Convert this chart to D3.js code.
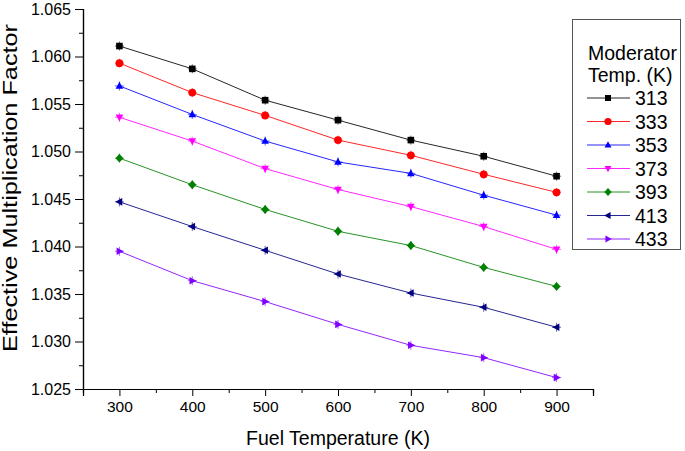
<!DOCTYPE html>
<html>
<head>
<meta charset="utf-8">
<script src="https://cdn.jsdelivr.net/npm/d3@7"></script>
<style>
  html, body { margin: 0; padding: 0; background: #fff; }
  svg { display: block; font-family: "Liberation Sans", Arial, sans-serif; }
</style>
</head>
<body>
<svg id="chart" width="685" height="451"></svg>
<script>
// ---- data ----
const fuelTemps = [300, 400, 500, 600, 700, 800, 900];
const moderatorTemps = ["313", "333", "353", "373", "393", "413", "433"];
const k313 = [1.0611, 1.0587, 1.0554, 1.0533, 1.0512, 1.0495, 1.0474];
const k333 = [1.0593, 1.0562, 1.0538, 1.0512, 1.0496, 1.0476, 1.0457];
const k353 = [1.0569, 1.0539, 1.0511, 1.0489, 1.0477, 1.0454, 1.0433];
const k373 = [1.0536, 1.0511, 1.0482, 1.0460, 1.0442, 1.0421, 1.0397];
const k393 = [1.0493, 1.0465, 1.0439, 1.0416, 1.0401, 1.0378, 1.0358];
const k413 = [1.0447, 1.0421, 1.0396, 1.0371, 1.0351, 1.0336, 1.0315];
const k433 = [1.0395, 1.0364, 1.0342, 1.0318, 1.0296, 1.0283, 1.0262];
const xTicks = [300, 400, 500, 600, 700, 800, 900];
const yTicks = [1.025, 1.030, 1.035, 1.040, 1.045, 1.050, 1.055, 1.060, 1.065];
const xTitle = "Fuel Temperature (K)";
const yTitle = "Effective Multiplication Factor";
const legendTitle = ["Moderator", "Temp. (K)"];

const seriesValues = [k313, k333, k353, k373, k393, k413, k433];
const colors = ["#000000", "#ff0000", "#0000ff", "#ff00ff", "#008000", "#000080", "#8000ff"];
const symbols = ["square", "circle", "triUp", "triDown", "diamond", "triLeft", "triRight"];

// ---- layout ----
const svg = d3.select("#chart");
const x = d3.scaleLinear().domain([250, 950]).range([83, 593]);
const y = d3.scaleLinear().domain([1.025, 1.065]).range([389, 9]);

// axes
const xMinor = d3.range(250, 951, 50).filter(v => v % 100 !== 0);
const yMinor = d3.range(0, 8).map(i => 1.0275 + i * 0.005);

const gx = svg.append("g").attr("transform", `translate(0,${y(1.025)})`);
gx.call(d3.axisBottom(x).tickValues(xTicks).tickSize(7).tickPadding(5).tickFormat(d3.format("d")));
gx.append("g").call(d3.axisBottom(x).tickValues(xMinor).tickSize(4).tickFormat(""));
gx.selectAll(".domain").attr("stroke", "#000").attr("stroke-width", 1.2);
gx.selectAll("text").attr("font-size", 15.5).attr("fill", "#000").attr("font-family", "Liberation Sans, Arial, sans-serif");

const gy = svg.append("g").attr("transform", `translate(${x(250)},0)`);
gy.call(d3.axisLeft(y).tickValues(yTicks).tickSize(8).tickPadding(4).tickFormat(d3.format(".3f")));
gy.append("g").call(d3.axisLeft(y).tickValues(yMinor).tickSize(4).tickFormat(""));
gy.selectAll(".domain").attr("stroke", "#000").attr("stroke-width", 1.2);
gy.selectAll("text").attr("font-size", 16).attr("fill", "#000").attr("font-family", "Liberation Sans, Arial, sans-serif");
svg.selectAll(".tick line").attr("stroke", "#000");

// titles
svg.append("text").attr("x", (x(250) + x(950)) / 2).attr("y", 445)
  .attr("text-anchor", "middle").attr("font-size", 19.5).text(xTitle);
svg.append("text").attr("transform", `translate(17,${188}) rotate(-90)`)
  .attr("text-anchor", "middle").attr("font-size", 19.5)
  .attr("textLength", 328).attr("lengthAdjust", "spacingAndGlyphs").text(yTitle);

// marker path generator
function markerPath(sym, s) {
  switch (sym) {
    case "square": return `M${-s},${-s}H${s}V${s}H${-s}Z`;
    case "circle": return d3.symbol().type(d3.symbolCircle).size(Math.PI * (s + 0.6) * (s + 0.6))();
    case "triUp": return `M0,${-s * 1.25}L${s * 1.15},${s * 0.85}L${-s * 1.15},${s * 0.85}Z`;
    case "triDown": return `M0,${s * 1.25}L${s * 1.15},${-s * 0.85}L${-s * 1.15},${-s * 0.85}Z`;
    case "diamond": return `M0,${-s * 1.35}L${s * 1.2},0L0,${s * 1.35}L${-s * 1.2},0Z`;
    case "triLeft": return `M${-s * 1.25},0L${s * 0.85},${-s * 1.15}L${s * 0.85},${s * 1.15}Z`;
    case "triRight": return `M${s * 1.25},0L${-s * 0.85},${-s * 1.15}L${-s * 0.85},${s * 1.15}Z`;
  }
}

const line = d3.line().x((d, i) => x(fuelTemps[i])).y(d => y(d));

seriesValues.forEach((vals, si) => {
  const g = svg.append("g");
  g.append("path").datum(vals).attr("d", line)
    .attr("fill", "none").attr("stroke", colors[si]).attr("stroke-width", 1).attr("stroke-opacity", 0.85);
  const pts = g.selectAll("g.pt").data(vals).join("g")
    .attr("transform", (d, i) => `translate(${x(fuelTemps[i])},${y(d)})`);
  // small error-bar style cross
  pts.append("path").attr("d", "M-4.5,0H4.5M0,-4.5V4.5")
    .attr("stroke", colors[si]).attr("stroke-width", 1).attr("stroke-opacity", 0.6);
  pts.append("path").attr("d", markerPath(symbols[si], 3.3))
    .attr("fill", colors[si]);
});

// legend
const lg = svg.append("g");
lg.append("rect").attr("x", 572.5).attr("y", 19.5).attr("width", 108).attr("height", 230)
  .attr("fill", "#fff").attr("stroke", "#555").attr("stroke-width", 1);
lg.append("text").attr("x", 588).attr("y", 60).attr("font-size", 19.5).text(legendTitle[0]);
lg.append("text").attr("x", 588).attr("y", 82).attr("font-size", 19.5).text(legendTitle[1]);
moderatorTemps.forEach((name, i) => {
  const cy = 98 + i * 23.5;
  lg.append("line").attr("x1", 587).attr("x2", 630).attr("y1", cy).attr("y2", cy)
    .attr("stroke", colors[i]).attr("stroke-width", 1).attr("stroke-opacity", 0.85);
  lg.append("path").attr("transform", `translate(608,${cy})`).attr("d", markerPath(symbols[i], 3))
    .attr("fill", colors[i]);
  lg.append("text").attr("x", 635).attr("y", cy + 7).attr("font-size", 19.5).text(name);
});
</script>
</body>
</html>
